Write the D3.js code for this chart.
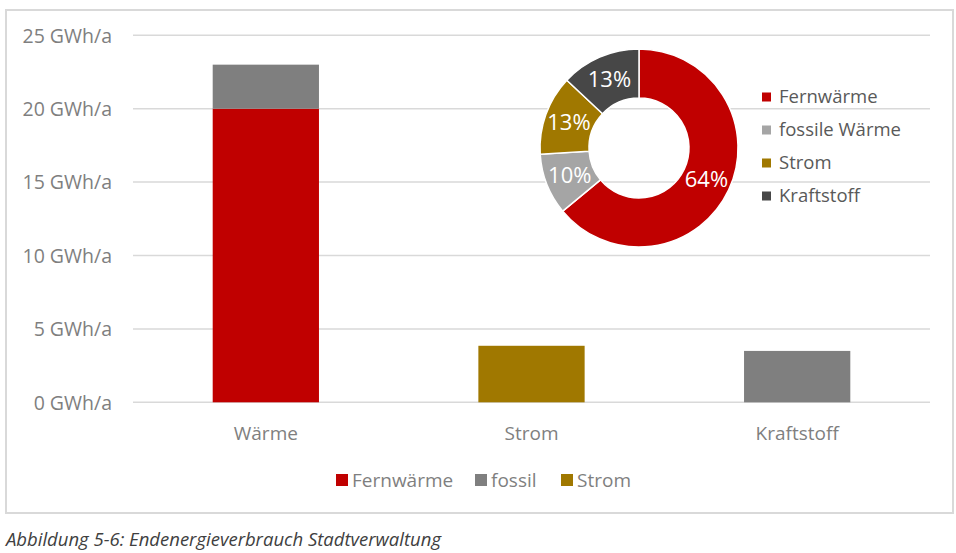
<!DOCTYPE html>
<html><head><meta charset="utf-8">
<script src="https://cdn.jsdelivr.net/npm/d3@7"></script>
<style>
html,body{margin:0;padding:0;background:#fff;}
svg{display:block;font-family:"Open Sans","Noto Sans",sans-serif;}
</style></head>
<body>
<svg id="c" width="956" height="553"></svg>
<script>
const categories = ["Wärme", "Strom", "Kraftstoff"];
const seriesNames = ["Fernwärme", "fossil", "Strom"];
const fernwaerme = [20, 0, 0];
const fossil = [3.0, 0, 3.5];
const strom = [0, 3.85, 0];
const yTicks = [0, 5, 10, 15, 20, 25];
const seriesColors = ["#C00000", "#7F7F7F", "#A07800"];

const donutNames = ["Fernwärme", "fossile Wärme", "Strom", "Kraftstoff"];
const donutValues = [64, 10, 13, 13];
const donutColors = ["#C00000", "#A5A5A5", "#A07800", "#474747"];
const caption = "Abbildung 5-6: Endenergieverbrauch Stadtverwaltung";

const svg = d3.select("#c");

// frame
svg.append("rect").attr("x", 6).attr("y", 10).attr("width", 947).attr("height", 503)
  .attr("fill", "#fff").attr("stroke", "#D9D9D9").attr("stroke-width", 2);

const x = d3.scaleBand().domain(categories).range([133, 930]).paddingInner(0.6).paddingOuter(0.3);
const y = d3.scaleLinear().domain([0, 25]).range([402.3, 35.3]);

// gridlines
svg.append("g").selectAll("line").data(yTicks).join("line")
  .attr("x1", 133).attr("x2", 930)
  .attr("y1", d => y(d)).attr("y2", d => y(d))
  .attr("stroke", "#D9D9D9").attr("stroke-width", 1.5);

// y axis labels
const yAxis = d3.axisLeft(y).tickValues(yTicks).tickSize(0).tickPadding(0)
  .tickFormat(d => d + " GWh/a");
const ya = svg.append("g").attr("transform", "translate(112,0)").call(yAxis);
ya.select(".domain").remove();
ya.selectAll("text").attr("font-size", 19.5).attr("fill", "#7F7F7F")
  .attr("font-family", "'Open Sans','Noto Sans',sans-serif").attr("dy", "0.35em");

// stacked bars
const rows = categories.map((c, i) => ({cat: c, Fernwärme: fernwaerme[i], fossil: fossil[i], Strom: strom[i]}));
const stack = d3.stack().keys(seriesNames)(rows);
svg.append("g").selectAll("g").data(stack).join("g")
  .attr("fill", (d, i) => seriesColors[i])
  .selectAll("rect").data(d => d.filter(v => v[1] - v[0] > 0)).join("rect")
  .attr("x", d => x(d.data.cat)).attr("width", x.bandwidth())
  .attr("y", d => y(d[1])).attr("height", d => y(d[0]) - y(d[1]));

// x axis labels
const xAxis = d3.axisBottom(x).tickSize(0).tickPadding(0);
const xa = svg.append("g").attr("transform", "translate(0,426)").call(xAxis);
xa.select(".domain").remove();
xa.selectAll("text").attr("font-size", 19).attr("fill", "#7F7F7F")
  .attr("font-family", "'Open Sans','Noto Sans',sans-serif").attr("dy", "0.35em").attr("y", 7);

// bottom legend
const legX = [336, 475, 561];
const lg = svg.append("g");
seriesNames.forEach((n, i) => {
  lg.append("rect").attr("x", legX[i]).attr("y", 474).attr("width", 12).attr("height", 12).attr("fill", seriesColors[i]);
  lg.append("text").attr("x", legX[i] + 16).attr("y", 487).attr("font-size", 19).attr("fill", "#7F7F7F").text(n);
});

// donut
const cx = 639, cy = 148, rO = 99, rI = 50;
const pie = d3.pie().sort(null).value(d => d);
const arc = d3.arc().innerRadius(rI).outerRadius(rO);
const arcs = pie(donutValues);
const dg = svg.append("g").attr("transform", `translate(${cx},${cy})`);
dg.selectAll("path").data(arcs).join("path")
  .attr("d", arc).attr("fill", (d, i) => donutColors[i])
  .attr("stroke", "#fff").attr("stroke-width", 1.5);
dg.selectAll("text").data(arcs).join("text")
  .attr("transform", d => `translate(${arc.centroid(d)})`)
  .attr("text-anchor", "middle").attr("dy", "0.35em")
  .attr("font-size", 22).attr("fill", "#fff")
  .text(d => d.data + "%");

// donut legend
const dl = svg.append("g");
donutNames.forEach((n, i) => {
  const yy = 97 + i * 33;
  dl.append("rect").attr("x", 762).attr("y", yy - 4.5).attr("width", 9).attr("height", 9).attr("fill", donutColors[i]);
  dl.append("text").attr("x", 779).attr("y", yy).attr("dy", "0.35em").attr("font-size", 18.5).attr("fill", "#595959").text(n);
});

// caption
svg.append("text").attr("x", 6).attr("y", 546).attr("font-size", 18.5).attr("font-style", "italic")
  .attr("fill", "#404040").text(caption);
</script>
</body></html>
